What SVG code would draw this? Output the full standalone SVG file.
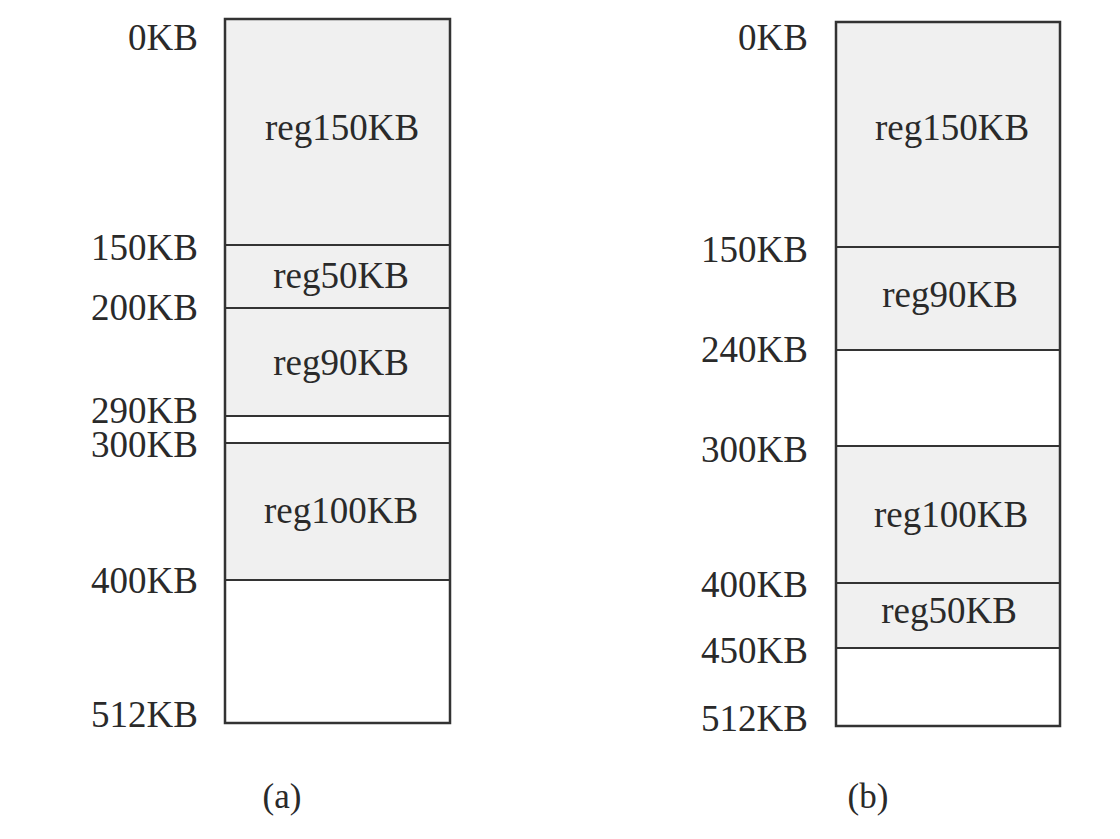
<svg xmlns="http://www.w3.org/2000/svg" width="1120" height="839" viewBox="0 0 1120 839">
<style>
text{font-family:"Liberation Serif","Times New Roman",serif;font-size:37px;fill:#2a2a2a}
.lbl{text-anchor:end}
.reg{text-anchor:middle}
.cap{text-anchor:middle;font-size:35px}
.used{fill:#f0f0f0;stroke:none}
.free{fill:#ffffff;stroke:none}
.box{fill:none;stroke:#333;stroke-width:2.5}
.div{stroke:#333;stroke-width:2.2}
</style>
<rect width="1120" height="839" fill="#fff"/>
<g id="memory-a">
<rect class="used" x="225" y="19" width="225" height="226"/>
<rect class="used" x="225" y="245" width="225" height="63"/>
<rect class="used" x="225" y="308" width="225" height="108"/>
<rect class="free" x="225" y="416" width="225" height="27"/>
<rect class="used" x="225" y="443" width="225" height="137"/>
<rect class="free" x="225" y="580" width="225" height="143"/>
<line class="div" x1="225" y1="245" x2="450" y2="245"/>
<line class="div" x1="225" y1="308" x2="450" y2="308"/>
<line class="div" x1="225" y1="416" x2="450" y2="416"/>
<line class="div" x1="225" y1="443" x2="450" y2="443"/>
<line class="div" x1="225" y1="580" x2="450" y2="580"/>
<rect class="box" x="225" y="19" width="225" height="704"/>
<text class="reg" x="342" y="140">reg150KB</text>
<text class="reg" x="341" y="288">reg50KB</text>
<text class="reg" x="341" y="375">reg90KB</text>
<text class="reg" x="341" y="523">reg100KB</text>
<text class="lbl" x="198" y="50">0KB</text>
<text class="lbl" x="198" y="260">150KB</text>
<text class="lbl" x="198" y="320">200KB</text>
<text class="lbl" x="198" y="423">290KB</text>
<text class="lbl" x="198" y="457">300KB</text>
<text class="lbl" x="198" y="593">400KB</text>
<text class="lbl" x="198" y="727">512KB</text>
<text class="cap" x="282" y="808">(a)</text>
</g>
<g id="memory-b">
<rect class="used" x="836" y="22" width="224" height="225"/>
<rect class="used" x="836" y="247" width="224" height="103"/>
<rect class="free" x="836" y="350" width="224" height="96"/>
<rect class="used" x="836" y="446" width="224" height="137"/>
<rect class="used" x="836" y="583" width="224" height="65"/>
<rect class="free" x="836" y="648" width="224" height="78"/>
<line class="div" x1="836" y1="247" x2="1060" y2="247"/>
<line class="div" x1="836" y1="350" x2="1060" y2="350"/>
<line class="div" x1="836" y1="446" x2="1060" y2="446"/>
<line class="div" x1="836" y1="583" x2="1060" y2="583"/>
<line class="div" x1="836" y1="648" x2="1060" y2="648"/>
<rect class="box" x="836" y="22" width="224" height="704"/>
<text class="reg" x="952" y="140">reg150KB</text>
<text class="reg" x="950" y="307">reg90KB</text>
<text class="reg" x="951" y="527">reg100KB</text>
<text class="reg" x="949" y="623">reg50KB</text>
<text class="lbl" x="808" y="50">0KB</text>
<text class="lbl" x="808" y="262">150KB</text>
<text class="lbl" x="808" y="362">240KB</text>
<text class="lbl" x="808" y="462">300KB</text>
<text class="lbl" x="808" y="597">400KB</text>
<text class="lbl" x="808" y="663">450KB</text>
<text class="lbl" x="808" y="731">512KB</text>
<text class="cap" x="868" y="808">(b)</text>
</g>
<g id="connectors"/>
</svg>
